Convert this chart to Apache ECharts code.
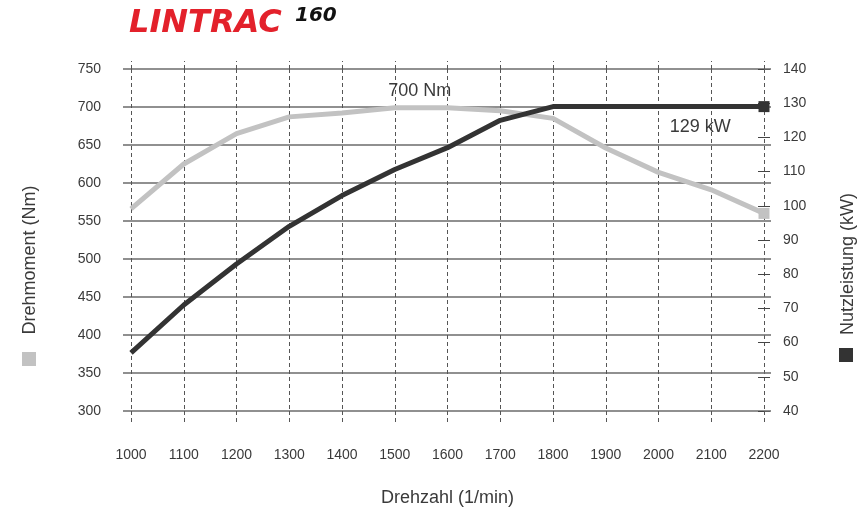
<!DOCTYPE html>
<html><head><meta charset="utf-8">
<script src="https://cdn.jsdelivr.net/npm/echarts@6/dist/echarts.min.js"></script>
<style>html,body{margin:0;padding:0;background:#fff}#c{width:859px;height:512px}</style>
</head><body><div id="c"></div>
<script>
const rpm = ['1000','1100','1200','1300','1400','1500','1600','1700','1800','1900','2000','2100','2200'];
const torqueNm = [566, 625, 665, 687, 692, 699, 699, 695, 685, 646, 614, 591, 560];
const powerKW = [57, 71, 83, 94, 103, 110.6, 117, 125, 129, 129, 129, 129, 129];
const torqueTicks = {min: 300, max: 750, interval: 50};
const powerTicks = {min: 40, max: 140, interval: 10};
const titleMain = 'LINTRAC', titleSub = '160';
const torqueName = 'Drehmoment (Nm)', powerName = 'Nutzleistung (kW)', rpmName = 'Drehzahl (1/min)';
const torqueLabel = '700 Nm', powerLabel = '129 kW';

const FONT = 'Liberation Sans';
const TXT = '#3a3a3a';
const LIGHT = '#c2c2c2', DARK = '#333333';

function labelPoint(idx, v, text, position, offset) {
  return {coord: [rpm[idx], v], symbol: 'circle', symbolSize: 1, itemStyle: {color: 'rgba(0,0,0,0)'},
    label: {show: true, formatter: text, position: position, offset: offset, distance: 5, fontSize: 18, color: TXT, fontFamily: FONT}};
}
const torqueData = torqueNm.map((v, i) => i === rpm.length - 1 ? {value: v, symbol: 'rect', symbolSize: 11} : v);
const powerData = powerKW.map((v, i) => i === rpm.length - 1 ? {value: v, symbol: 'rect', symbolSize: 11} : v);

const chart = echarts.init(document.getElementById('c'));
chart.setOption({
  animation: false,
  textStyle: {fontFamily: FONT},
  grid: {left: 131, right: 95, top: 69, bottom: 93},
  graphic: [
    {type: 'text', left: 129, top: 8, style: {text: titleMain, fill: '#e3212b', fontSize: 32, fontStyle: 'italic', fontWeight: 'bold', fontFamily: 'DejaVu Sans'}},
    {type: 'text', left: 295, top: 6, style: {text: titleSub, fill: '#111', fontSize: 20, fontStyle: 'italic', fontWeight: 'bold', fontFamily: 'DejaVu Sans'}},
    {type: 'text', x: 30, y: 260, rotation: Math.PI / 2, style: {text: torqueName, fill: TXT, fontSize: 18, fontFamily: FONT, align: 'center', verticalAlign: 'middle'}},
    {type: 'rect', shape: {x: 22, y: 352, width: 14, height: 14}, style: {fill: LIGHT}},
    {type: 'text', x: 848, y: 264, rotation: Math.PI / 2, style: {text: powerName, fill: TXT, fontSize: 18, fontFamily: FONT, align: 'center', verticalAlign: 'middle'}},
    {type: 'rect', shape: {x: 839, y: 348, width: 14, height: 14}, style: {fill: DARK}}
  ],
  xAxis: [{
    type: 'category', data: rpm, boundaryGap: false, position: 'bottom',
    axisLine: {show: false},
    axisTick: {show: true, length: 13, lineStyle: {color: '#555', type: [4, 3], width: 1}},
    axisLabel: {color: TXT, fontSize: 14, margin: 37, fontFamily: FONT},
    splitLine: {show: true, lineStyle: {color: '#555', type: [4, 3], width: 1}},
    name: rpmName, nameLocation: 'middle', nameGap: 78,
    nameTextStyle: {color: TXT, fontSize: 18, fontFamily: FONT}
  }, {
    type: 'category', data: rpm, boundaryGap: false, position: 'top',
    axisLine: {show: false}, axisLabel: {show: false}, splitLine: {show: false},
    axisTick: {show: true, length: 8, lineStyle: {color: '#555', type: [4, 3], width: 1}}
  }],
  yAxis: [{
    type: 'value', position: 'left', min: torqueTicks.min, max: torqueTicks.max, interval: torqueTicks.interval,
    axisLine: {show: false},
    axisTick: {show: true, length: 8, lineStyle: {color: '#6b6b6b', width: 1.5}},
    axisLabel: {color: TXT, fontSize: 14, margin: 30, fontFamily: FONT},
    splitLine: {show: true, lineStyle: {color: '#6b6b6b', width: 1.5}}
  }, {
    type: 'value', position: 'right', min: powerTicks.min, max: powerTicks.max, interval: powerTicks.interval,
    axisLine: {show: false},
    axisTick: {show: true, length: 6, lineStyle: {color: '#444', width: 1}},
    axisLabel: {color: TXT, fontSize: 14, margin: 19, fontFamily: FONT},
    splitLine: {show: false}
  }, {
    type: 'value', position: 'right', min: powerTicks.min, max: powerTicks.max, interval: powerTicks.interval,
    axisLine: {show: false}, axisLabel: {show: false}, splitLine: {show: false},
    axisTick: {show: true, inside: true, length: 6, lineStyle: {color: '#444', width: 1}}
  }, {
    type: 'value', position: 'right', min: torqueTicks.min, max: torqueTicks.max, interval: torqueTicks.interval,
    axisLine: {show: false}, axisLabel: {show: false}, splitLine: {show: false},
    axisTick: {show: true, length: 7, lineStyle: {color: '#6b6b6b', width: 1.5}}
  }],
  series: [{
    name: torqueName, type: 'line', yAxisIndex: 0, data: torqueData,
    symbol: 'none', showSymbol: true, showAllSymbol: true,
    lineStyle: {color: LIGHT, width: 5}, itemStyle: {color: LIGHT}, z: 3,
    markPoint: {silent: true, data: [labelPoint(5, torqueNm[5], torqueLabel, 'top', [25, -2])]}
  }, {
    name: powerName, type: 'line', yAxisIndex: 1, data: powerData,
    symbol: 'none', showSymbol: true, showAllSymbol: true,
    lineStyle: {color: DARK, width: 5}, itemStyle: {color: DARK}, z: 4,
    markPoint: {silent: true, data: [labelPoint(11, powerKW[11], powerLabel, 'bottom', [-11, 6])]}
  }]
});
</script></body></html>
